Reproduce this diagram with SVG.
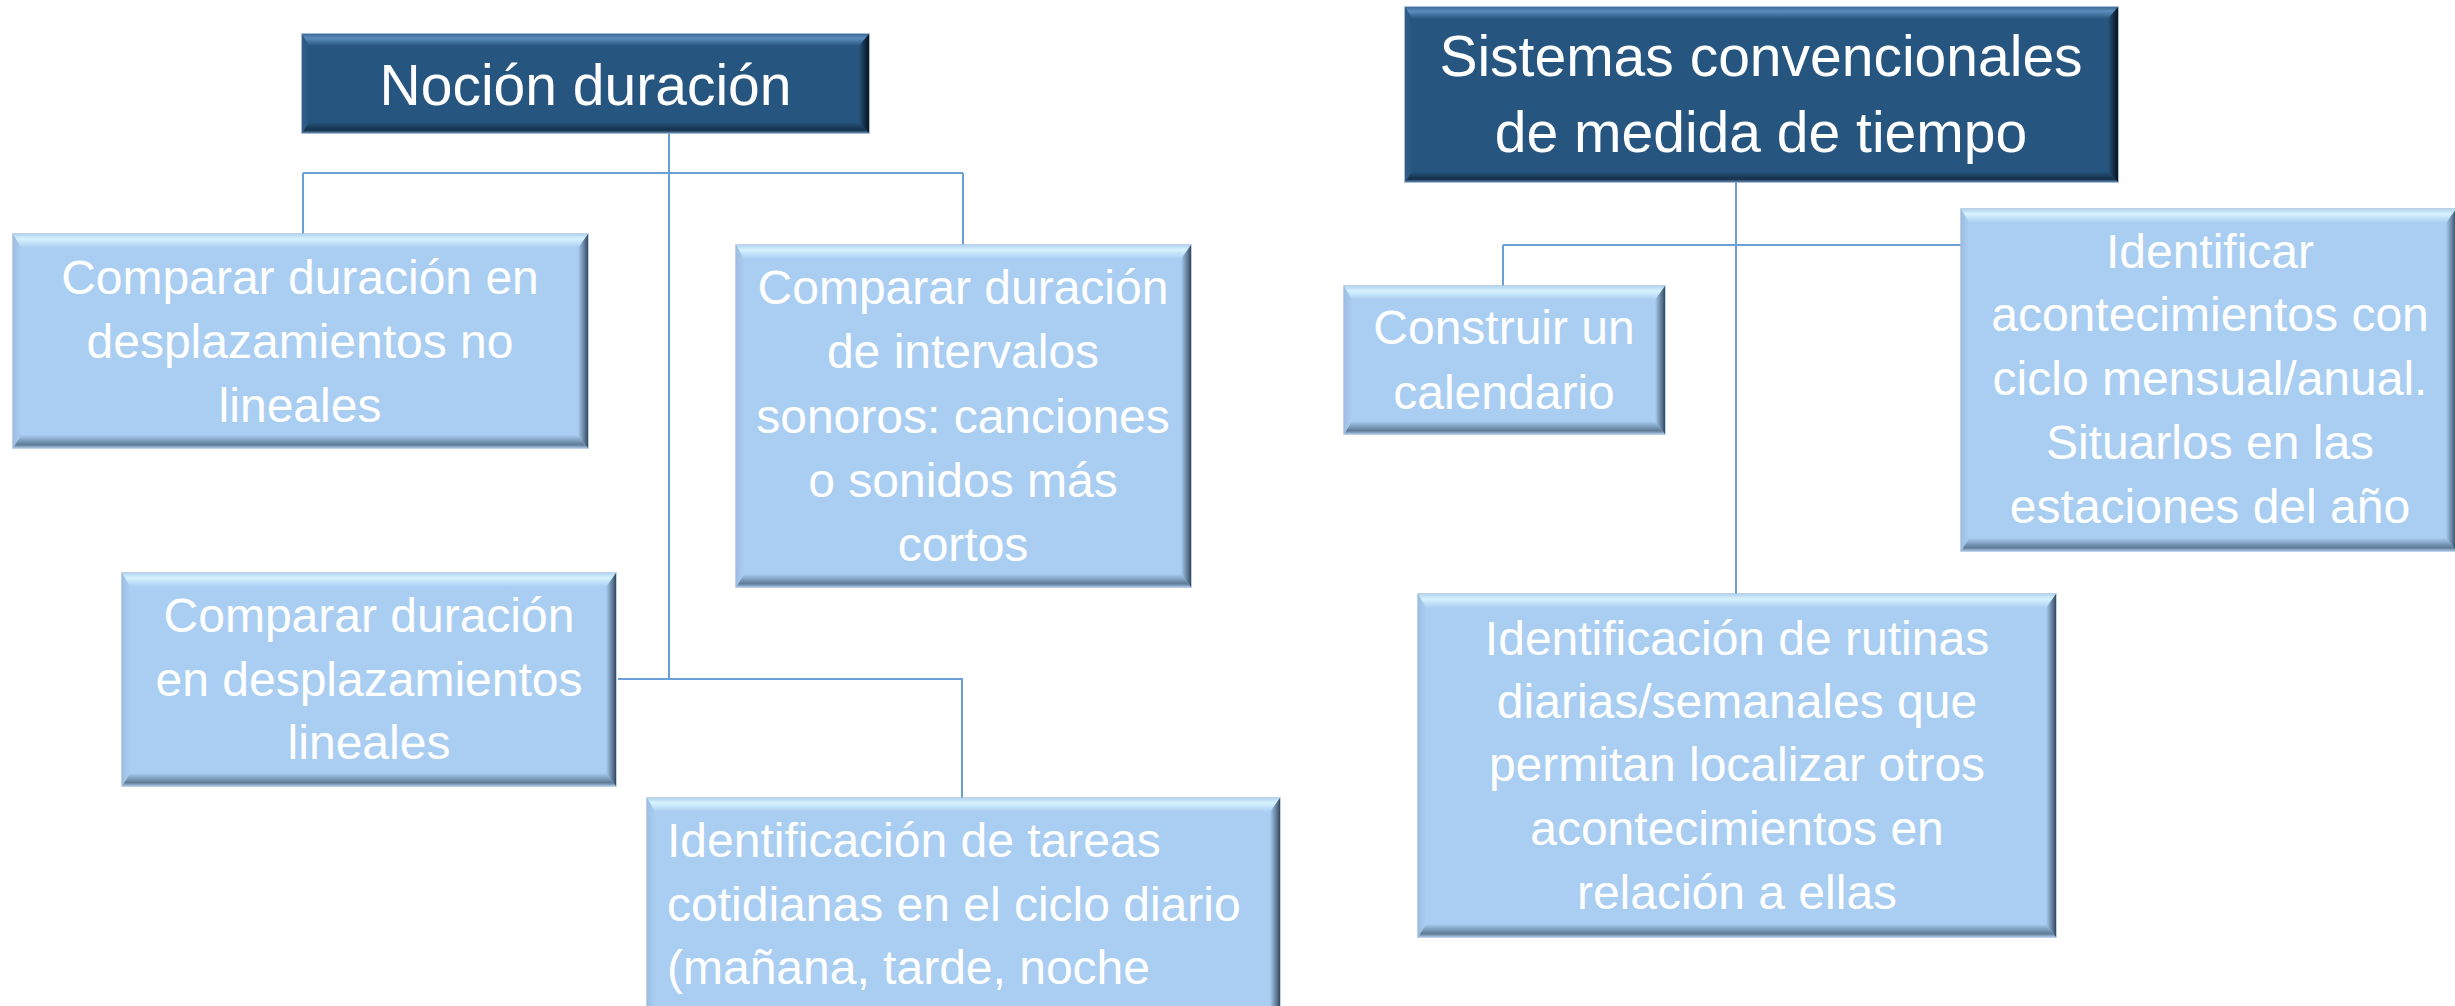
<svg xmlns="http://www.w3.org/2000/svg" width="2455" height="1006" viewBox="0 0 2455 1006">
<style>
.bg{fill:#ffffff}
.lf{fill:#A9CEF2;stroke:#a6c2df;stroke-width:1.5}
.df{fill:#26567F;stroke:#8aa8c8;stroke-width:1.5}
.lt{fill:url(#ltg)}.lb{fill:url(#lbg)}.ll{fill:url(#llg)}.lr{fill:url(#lrg)}
.dt{fill:url(#dtg)}.db{fill:url(#dbg)}.dl{fill:url(#dlg)}.dr{fill:url(#drg)}
.conn{fill:none;stroke:#6A9FD8;stroke-width:2}
.t{font-family:"Liberation Sans",Arial,sans-serif;fill:#ffffff;font-size:48px;text-anchor:middle}
.tt{font-family:"Liberation Sans",Arial,sans-serif;fill:#ffffff;font-size:57px;text-anchor:middle}
.ts{text-anchor:start}
</style>
<defs>
<linearGradient id="ltg" x1="0" y1="0" x2="0" y2="1"><stop offset="0" stop-color="#b4d4ee"/><stop offset="0.35" stop-color="#d6f2ff"/><stop offset="1" stop-color="#A9CEF2"/></linearGradient>
<linearGradient id="lbg" x1="0" y1="0" x2="0" y2="1"><stop offset="0" stop-color="#A9CEF2"/><stop offset="0.75" stop-color="#5d7a96"/><stop offset="1" stop-color="#a5c3e2"/></linearGradient>
<linearGradient id="llg" x1="0" y1="0" x2="1" y2="0"><stop offset="0" stop-color="#9dbde0"/><stop offset="1" stop-color="#A9CEF2"/></linearGradient>
<linearGradient id="lrg" x1="0" y1="0" x2="1" y2="0"><stop offset="0" stop-color="#A9CEF2"/><stop offset="0.7" stop-color="#5a7490"/><stop offset="1" stop-color="#34465a"/></linearGradient>
<linearGradient id="dtg" x1="0" y1="0" x2="0" y2="1"><stop offset="0" stop-color="#3f6d99"/><stop offset="0.35" stop-color="#5b8cbc"/><stop offset="1" stop-color="#26567F"/></linearGradient>
<linearGradient id="dbg" x1="0" y1="0" x2="0" y2="1"><stop offset="0" stop-color="#26567F"/><stop offset="0.75" stop-color="#142f48"/><stop offset="1" stop-color="#5f86ad"/></linearGradient>
<linearGradient id="dlg" x1="0" y1="0" x2="1" y2="0"><stop offset="0" stop-color="#335f8a"/><stop offset="1" stop-color="#26567F"/></linearGradient>
<linearGradient id="drg" x1="0" y1="0" x2="1" y2="0"><stop offset="0" stop-color="#26567F"/><stop offset="0.7" stop-color="#102438"/><stop offset="1" stop-color="#0a1622"/></linearGradient>
</defs>
<rect class="bg" x="0" y="0" width="2455" height="1006"/>

<g id="connectors">
<path class="conn" d="M669,124 V679"/>
<path class="conn" d="M303,173 H963"/>
<path class="conn" d="M303,173 V234"/>
<path class="conn" d="M963,173 V245"/>
<path class="conn" d="M618,679 H962 V798"/>
<path class="conn" d="M1736,182 V594"/>
<path class="conn" d="M1503,245 H1961"/>
<path class="conn" d="M1503,245 V286"/>
</g>

<g id="nocion-duracion">
<rect class="df" x="302" y="34" width="567" height="99"/>
<polygon class="dt" points="302,34 869,34 859,46 309,46"/>
<polygon class="db" points="302,133 869,133 859,122 309,122"/>
<polygon class="dl" points="302,34 309,46 309,122 302,133"/>
<polygon class="dr" points="869,34 859,46 859,122 869,133"/>
<text class="tt" x="585.5" y="105">Noción duración</text>
</g>

<g id="desplazamientos-no-lineales">
<rect class="lf" x="13" y="234" width="575" height="214"/>
<polygon class="lt" points="13,234 588,234 578,248 21,248"/>
<polygon class="lb" points="13,448 588,448 578,435 21,435"/>
<polygon class="ll" points="13,234 21,248 21,435 13,448"/>
<polygon class="lr" points="588,234 578,248 578,435 588,448"/>
<text class="t" x="300" y="294">Comparar duración en</text>
<text class="t" x="300" y="358">desplazamientos no</text>
<text class="t" x="300" y="422">lineales</text>
</g>

<g id="intervalos-sonoros">
<rect class="lf" x="736" y="245" width="455" height="342"/>
<polygon class="lt" points="736,245 1191,245 1181,259 744,259"/>
<polygon class="lb" points="736,587 1191,587 1181,574 744,574"/>
<polygon class="ll" points="736,245 744,259 744,574 736,587"/>
<polygon class="lr" points="1191,245 1181,259 1181,574 1191,587"/>
<text class="t" x="963" y="304">Comparar duración</text>
<text class="t" x="963" y="368">de intervalos</text>
<text class="t" x="963" y="433">sonoros: canciones</text>
<text class="t" x="963" y="497">o sonidos más</text>
<text class="t" x="963" y="561">cortos</text>
</g>

<g id="desplazamientos-lineales">
<rect class="lf" x="122" y="573" width="494" height="213"/>
<polygon class="lt" points="122,573 616,573 606,587 130,587"/>
<polygon class="lb" points="122,786 616,786 606,773 130,773"/>
<polygon class="ll" points="122,573 130,587 130,773 122,786"/>
<polygon class="lr" points="616,573 606,587 606,773 616,786"/>
<text class="t" x="369" y="632">Comparar duración</text>
<text class="t" x="369" y="696">en desplazamientos</text>
<text class="t" x="369" y="759">lineales</text>
</g>

<g id="tareas-cotidianas">
<rect class="lf" x="647" y="798" width="633" height="240"/>
<polygon class="lt" points="647,798 1280,798 1270,812 655,812"/>
<polygon class="ll" points="647,798 655,812 655,1025 647,1038"/>
<polygon class="lr" points="1280,798 1270,812 1270,1025 1280,1038"/>
<text class="t ts" x="667" y="857">Identificación de tareas</text>
<text class="t ts" x="667" y="921">cotidianas en el ciclo diario</text>
<text class="t ts" x="667" y="984">(mañana, tarde, noche</text>
</g>

<g id="sistemas-convencionales">
<rect class="df" x="1405" y="7" width="713" height="175"/>
<polygon class="dt" points="1405,7 2118,7 2108,19 1412,19"/>
<polygon class="db" points="1405,182 2118,182 2108,171 1412,171"/>
<polygon class="dl" points="1405,7 1412,19 1412,171 1405,182"/>
<polygon class="dr" points="2118,7 2108,19 2108,171 2118,182"/>
<text class="tt" x="1761" y="76">Sistemas convencionales</text>
<text class="tt" x="1761" y="152">de medida de tiempo</text>
</g>

<g id="construir-calendario">
<rect class="lf" x="1344" y="286" width="321" height="148"/>
<polygon class="lt" points="1344,286 1665,286 1655,300 1352,300"/>
<polygon class="lb" points="1344,434 1665,434 1655,421 1352,421"/>
<polygon class="ll" points="1344,286 1352,300 1352,421 1344,434"/>
<polygon class="lr" points="1665,286 1655,300 1655,421 1665,434"/>
<text class="t" x="1504" y="344">Construir un</text>
<text class="t" x="1504" y="409">calendario</text>
</g>

<g id="ciclo-mensual-anual">
<rect class="lf" x="1961" y="209" width="495" height="342"/>
<polygon class="lt" points="1961,209 2456,209 2446,223 1969,223"/>
<polygon class="lb" points="1961,551 2456,551 2446,538 1969,538"/>
<polygon class="ll" points="1961,209 1969,223 1969,538 1961,551"/>
<polygon class="lr" points="2456,209 2446,223 2446,538 2456,551"/>
<text class="t" x="2210" y="268">Identificar</text>
<text class="t" x="2210" y="331">acontecimientos con</text>
<text class="t" x="2210" y="395">ciclo mensual/anual.</text>
<text class="t" x="2210" y="459">Situarlos en las</text>
<text class="t" x="2210" y="523">estaciones del año</text>
</g>

<g id="rutinas-diarias">
<rect class="lf" x="1418" y="594" width="638" height="343"/>
<polygon class="lt" points="1418,594 2056,594 2046,608 1426,608"/>
<polygon class="lb" points="1418,937 2056,937 2046,924 1426,924"/>
<polygon class="ll" points="1418,594 1426,608 1426,924 1418,937"/>
<polygon class="lr" points="2056,594 2046,608 2046,924 2056,937"/>
<text class="t" x="1737" y="655">Identificación de rutinas</text>
<text class="t" x="1737" y="718">diarias/semanales que</text>
<text class="t" x="1737" y="781">permitan localizar otros</text>
<text class="t" x="1737" y="845">acontecimientos en</text>
<text class="t" x="1737" y="909">relación a ellas</text>
</g>
</svg>
